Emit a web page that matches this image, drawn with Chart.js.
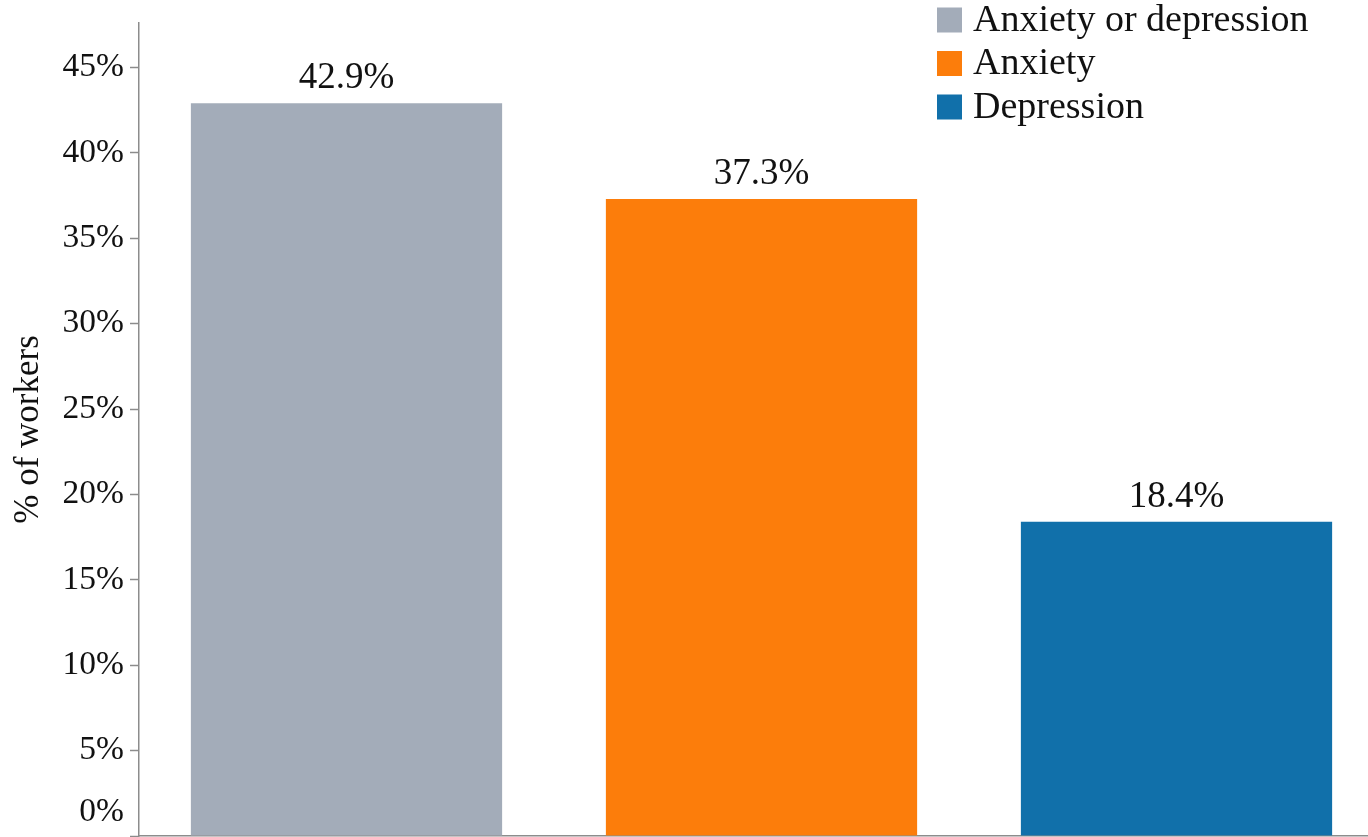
<!DOCTYPE html>
<html>
<head>
<meta charset="utf-8">
<script src="https://cdn.jsdelivr.net/npm/chart.js@4.4.1/dist/chart.umd.min.js"></script>
<style>
  html, body { margin: 0; padding: 0; overflow: hidden; background: #fff; }
  #chart { display: block; }
</style>
</head>
<body>
<canvas id="chart" width="1385" height="837"></canvas>
<script>
const categories = ['Anxiety or depression', 'Anxiety', 'Depression'];
const values = [42.9, 37.3, 18.4];
const barColors = ['#a3acb9', '#fc7d0b', '#1170aa'];
const yTicks = [0, 5, 10, 15, 20, 25, 30, 35, 40, 45];

const serif = '"Liberation Serif", "Times New Roman", serif';

// value labels above each bar
const barLabels = {
  id: 'barLabels',
  afterDatasetsDraw(chart) {
    const { ctx } = chart;
    const meta = chart.getDatasetMeta(0);
    ctx.save();
    ctx.font = '37px ' + serif;
    ctx.fillStyle = '#111';
    ctx.textAlign = 'center';
    ctx.textBaseline = 'alphabetic';
    meta.data.forEach((bar, i) => {
      ctx.fillText(values[i].toFixed(1) + '%', bar.x, bar.y - 15);
    });
    ctx.restore();
  }
};

// vertical legend in the top right corner
const sideLegend = {
  id: 'sideLegend',
  afterDraw(chart) {
    const { ctx } = chart;
    ctx.save();
    ctx.font = '38px ' + serif;
    ctx.textBaseline = 'middle';
    ctx.textAlign = 'left';
    categories.forEach((name, i) => {
      const y = 20 + i * 43.5;
      ctx.fillStyle = barColors[i];
      ctx.fillRect(937, y - 12.5, 25, 25);
      ctx.fillStyle = '#111';
      ctx.fillText(name, 973, y + 1);
    });
    ctx.restore();
  }
};

// lift the 0% label above the bottom edge
const liftZero = {
  id: 'liftZero',
  beforeDraw(chart) {
    const items = chart.scales.y.getLabelItems();
    items.forEach(it => {
      if (it.label === '0%' && !it._lifted) {
        it.options.translation[1] -= 24;
        it._lifted = true;
      }
    });
  }
};

new Chart(document.getElementById('chart'), {
  type: 'bar',
  data: {
    labels: categories,
    datasets: [{
      data: values,
      backgroundColor: barColors,
      borderWidth: 0,
      barPercentage: 0.75,
      categoryPercentage: 1.0
    }]
  },
  options: {
    responsive: false,
    animation: false,
    layout: { padding: { top: 23, bottom: 1, right: 1, left: 0 } },
    plugins: {
      legend: { display: false },
      tooltip: { enabled: false }
    },
    scales: {
      x: {
        grid: { display: false, drawTicks: false },
        ticks: { display: false },
        border: { display: true, color: '#8c8c8c', width: 1.5 }
      },
      y: {
        min: 0,
        max: 47.6,
        afterBuildTicks(scale) {
          scale.ticks = yTicks.map(v => ({ value: v }));
        },
        afterFit(scale) {
          scale.width = 139;
          scale.paddingTop = 0;
          scale.paddingBottom = 0;
        },
        ticks: {
          padding: 6,
          color: '#111',
          font: { family: serif, size: 33.5 },
          callback: v => v + '%'
        },
        grid: {
          drawOnChartArea: false,
          drawTicks: true,
          tickLength: 9,
          tickColor: '#8c8c8c',
          tickWidth: 1.5
        },
        border: { display: true, color: '#8c8c8c', width: 1.5 },
        title: {
          display: true,
          text: '% of workers',
          color: '#111',
          font: { family: serif, size: 35 },
          padding: { top: 8, bottom: 0 }
        }
      }
    }
  },
  plugins: [barLabels, sideLegend, liftZero]
});
</script>
</body>
</html>
